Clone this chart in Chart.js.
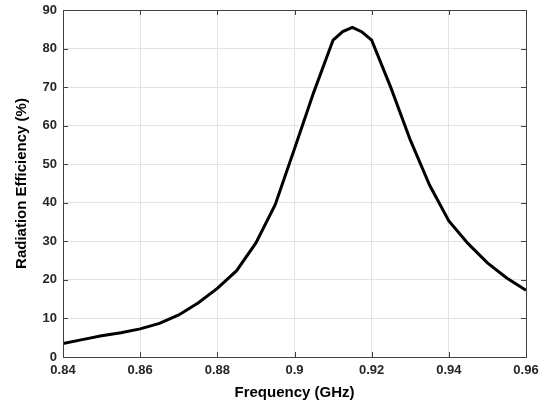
<!DOCTYPE html>
<html>
<head>
<meta charset="utf-8">
<script src="https://cdn.jsdelivr.net/npm/chart.js@4/dist/chart.umd.min.js"></script>
<style>
  html, body { margin: 0; padding: 0; background: #fff; }
  #wrap { width: 543px; height: 406px; }
</style>
</head>
<body>
<div id="wrap"><canvas id="effChart"></canvas></div>
<script>
// Frequency (GHz) and radiation efficiency (%)
const freq = [0.84, 0.845, 0.85, 0.855, 0.86, 0.865, 0.87, 0.875, 0.88, 0.885,
              0.89, 0.895, 0.9, 0.905, 0.91, 0.9125, 0.915, 0.9175, 0.92, 0.925,
              0.93, 0.935, 0.94, 0.945, 0.95, 0.955, 0.96];
const efficiency = [3.5, 4.5, 5.5, 6.3, 7.3, 8.7, 10.9, 14.0, 17.8, 22.4,
                    29.6, 39.5, 54.0, 68.7, 82.2, 84.4, 85.5, 84.3, 82.2, 69.8,
                    56.3, 44.6, 35.3, 29.4, 24.4, 20.5, 17.3];
const xTicks = [0.84, 0.86, 0.88, 0.9, 0.92, 0.94, 0.96];
const yTicks = [0, 10, 20, 30, 40, 50, 60, 70, 80, 90];

const labelFont = { family: 'Liberation Sans, Arial, sans-serif', size: 13, weight: 'bold' };
const titleFont = { family: 'Liberation Sans, Arial, sans-serif', size: 15, weight: 'bold' };

// MATLAB-style box with inward tick marks on all four sides
const boxTicks = {
  id: 'boxTicks',
  afterDatasetsDraw(chart) {
    const ctx = chart.ctx;
    const a = chart.chartArea;
    const xs = chart.scales.x, ys = chart.scales.y;
    const len = 5;
    ctx.save();
    ctx.strokeStyle = '#404040';
    ctx.lineWidth = 1;
    ctx.beginPath();
    xTicks.forEach(v => {
      const px = Math.round(xs.getPixelForValue(v)) + 0.5;
      ctx.moveTo(px, a.bottom); ctx.lineTo(px, a.bottom - len);
      ctx.moveTo(px, a.top); ctx.lineTo(px, a.top + len);
    });
    yTicks.forEach(v => {
      const py = Math.round(ys.getPixelForValue(v)) + 0.5;
      ctx.moveTo(a.left, py); ctx.lineTo(a.left + len, py);
      ctx.moveTo(a.right, py); ctx.lineTo(a.right - len, py);
    });
    ctx.stroke();
    ctx.strokeRect(Math.round(a.left) + 0.5, Math.round(a.top) + 0.5,
                   Math.round(a.right - a.left), Math.round(a.bottom - a.top));
    ctx.restore();
  }
};

new Chart(document.getElementById('effChart'), {
  type: 'line',
  data: {
    datasets: [{
      data: freq.map((f, i) => ({ x: f, y: efficiency[i] })),
      borderColor: '#000',
      borderWidth: 3,
      pointRadius: 0,
      tension: 0,
      fill: false
    }]
  },
  options: {
    responsive: true,
    maintainAspectRatio: false,
    animation: false,
    layout: { padding: { left: 0, right: 17, top: 10, bottom: 0 } },
    plugins: {
      legend: { display: false },
      tooltip: { enabled: false }
    },
    scales: {
      x: {
        type: 'linear',
        min: 0.84,
        max: 0.96,
        afterBuildTicks: scale => { scale.ticks = xTicks.map(v => ({ value: v })); },
        afterFit: scale => {
          scale.height = 49;
          scale.paddingLeft = 0;
          scale.paddingRight = 0;
        },
        grid: { color: '#e3e3e3', lineWidth: 1, drawTicks: false },
        border: { display: false },
        ticks: {
          color: '#262626',
          font: labelFont,
          padding: 6,
          callback: v => String(Number(v.toFixed(2)))
        },
        title: {
          display: true,
          text: 'Frequency (GHz)',
          color: '#000',
          font: titleFont,
          padding: { top: 2, bottom: 4 }
        }
      },
      y: {
        min: 0,
        max: 90,
        afterBuildTicks: scale => { scale.ticks = yTicks.map(v => ({ value: v })); },
        afterFit: scale => {
          scale.width = 63;
          scale.paddingTop = 0;
          scale.paddingBottom = 0;
        },
        grid: { color: '#e3e3e3', lineWidth: 1, drawTicks: false },
        border: { display: false },
        ticks: {
          color: '#262626',
          font: labelFont,
          padding: 6
        },
        title: {
          display: true,
          text: 'Radiation Efficiency (%)',
          color: '#000',
          font: titleFont,
          padding: { top: 13, bottom: 0 }
        }
      }
    }
  },
  plugins: [boxTicks]
});
</script>
</body>
</html>
